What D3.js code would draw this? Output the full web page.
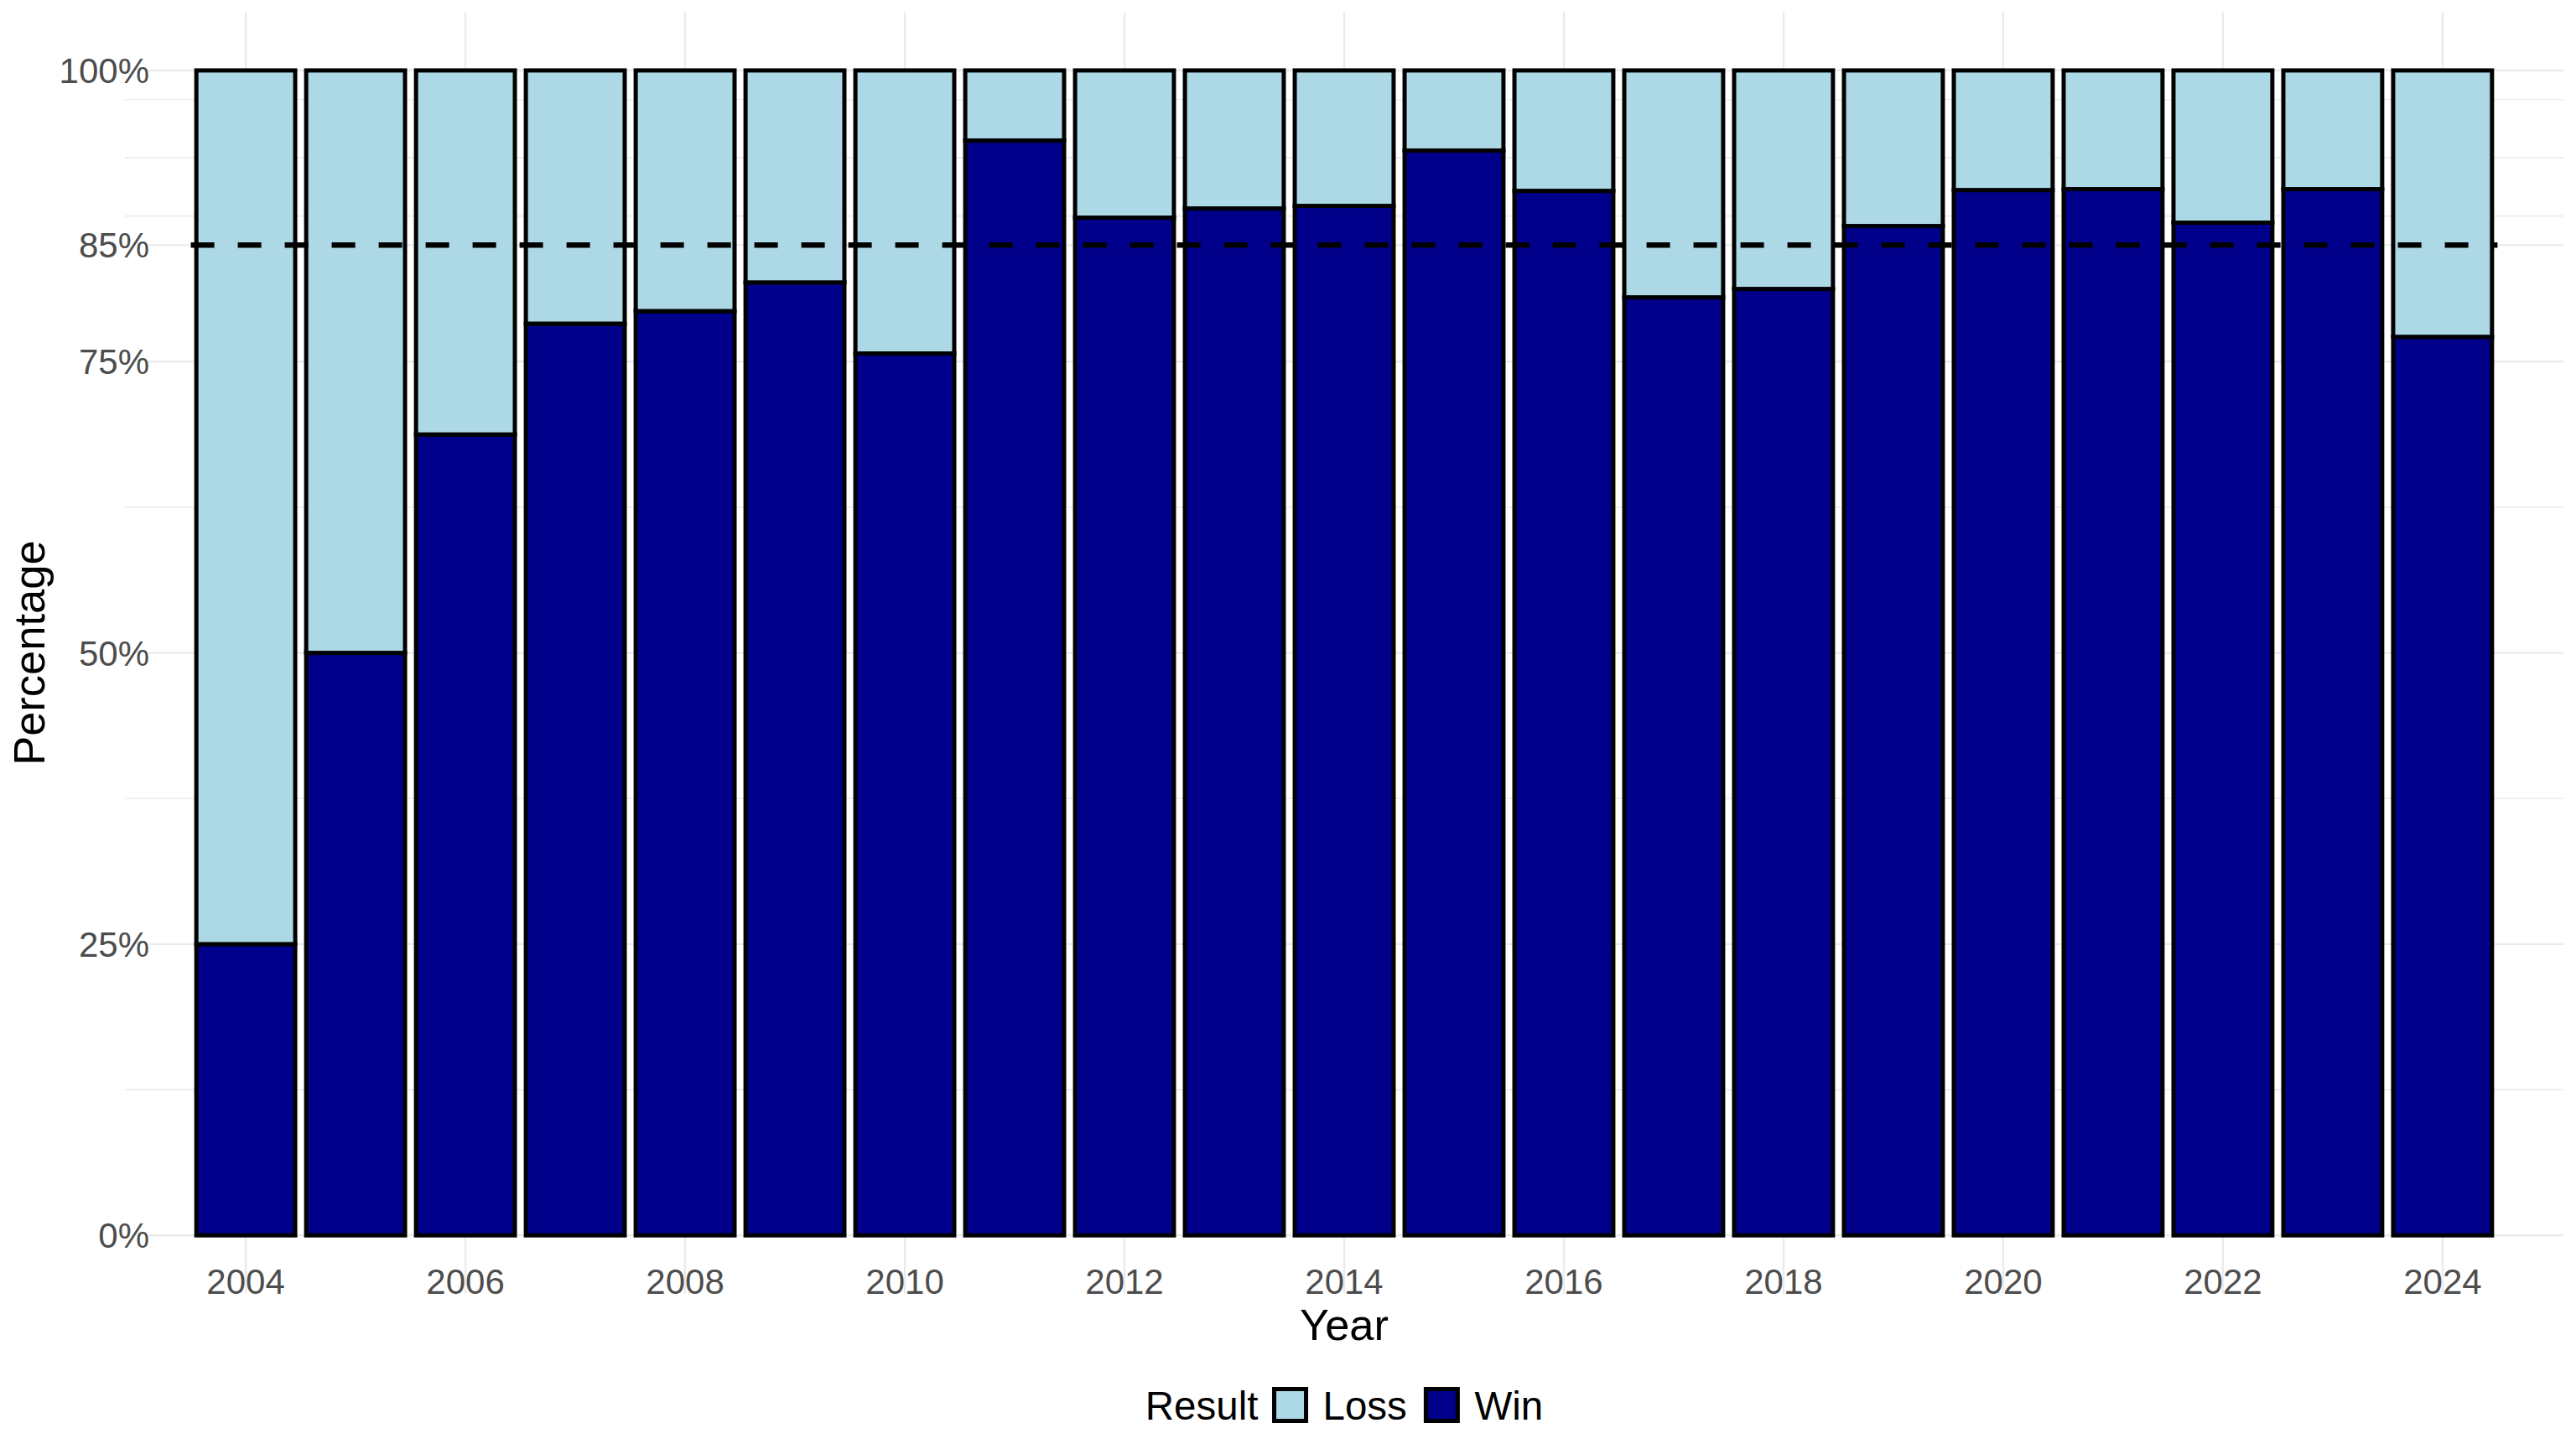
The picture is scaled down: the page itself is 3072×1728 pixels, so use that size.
<!DOCTYPE html>
<html>
<head>
<meta charset="utf-8">
<script src="https://d3js.org/d3.v7.min.js"></script>
<style>
  html, body { margin: 0; padding: 0; background: #fff; }
  svg { display: block; font-family: 'Liberation Sans', Arial, Helvetica, sans-serif; }
</style>
</head>
<body>
<svg id="chart" width="3072" height="1728"></svg>
<script>
// --- DATA ---
const years = [2004, 2005, 2006, 2007, 2008, 2009, 2010, 2011, 2012, 2013, 2014,
               2015, 2016, 2017, 2018, 2019, 2020, 2021, 2022, 2023, 2024];
// share of games won / lost per year (in %)
const winPct  = [25.0, 50.0, 68.75, 78.26, 79.34, 81.8, 75.7, 93.98, 87.36, 88.15, 88.37,
                 93.12, 89.66, 80.52, 81.24, 86.64, 89.73, 89.81, 86.93, 89.81, 77.13];
const lossPct = [75.0, 50.0, 31.25, 21.74, 20.66, 18.2, 24.3, 6.02, 12.64, 11.85, 11.63,
                 6.88, 10.34, 19.48, 18.76, 13.36, 10.27, 10.19, 13.07, 10.19, 22.87];
const xTicks = [2004, 2006, 2008, 2010, 2012, 2014, 2016, 2018, 2020, 2022, 2024];
const yTicks = [0, 0.25, 0.5, 0.75, 0.85, 1];
const yMinor = [0.125, 0.375, 0.625, 0.875, 0.925, 0.975];
const target = 0.85;
const seriesNames = ["Loss", "Win"];
const seriesColors = ["#ADD8E6", "#00008B"];

// --- LAYOUT ---
const panel = { left: 149, right: 3057, top: 14.5, bottom: 1542.7 };
const svg = d3.select("#chart");

const x = d3.scaleLinear().domain([2002.9, 2025.1]).range([panel.left, panel.right]);
const y = d3.scaleLinear().domain([-0.05, 1.05]).range([panel.bottom, panel.top]);
const color = d3.scaleOrdinal().domain(seriesNames).range(seriesColors);
const barW = x(2004.9) - x(2004);

const rows = years.map((yr, i) => ({ year: yr, Win: winPct[i] / 100, Loss: lossPct[i] / 100 }));

// --- GRID ---
const grid = svg.append("g");
grid.selectAll("line.minor").data(yMinor).enter().append("line")
    .attr("x1", panel.left).attr("x2", panel.right)
    .attr("y1", d => y(d)).attr("y2", d => y(d))
    .attr("stroke", "#EBEBEB").attr("stroke-width", 1.6);
grid.selectAll("line.major").data(yTicks).enter().append("line")
    .attr("x1", 177).attr("x2", panel.right)
    .attr("y1", d => y(d)).attr("y2", d => y(d))
    .attr("stroke", "#EBEBEB").attr("stroke-width", 2.4);
grid.selectAll("line.vmajor").data(xTicks).enter().append("line")
    .attr("x1", d => x(d)).attr("x2", d => x(d))
    .attr("y1", panel.top).attr("y2", panel.bottom)
    .attr("stroke", "#EBEBEB").attr("stroke-width", 2.4);

// --- BARS (Win at bottom, Loss stacked on top) ---
const stack = d3.stack().keys(["Win", "Loss"])(rows);
svg.append("g").selectAll("g").data(stack).enter().append("g")
    .attr("fill", d => color(d.key))
    .selectAll("rect").data(d => d).enter().append("rect")
    .attr("x", d => x(d.data.year) - barW / 2)
    .attr("width", barW)
    .attr("y", d => y(d[1]))
    .attr("height", d => y(d[0]) - y(d[1]))
    .attr("stroke", "#000").attr("stroke-width", 5);

// --- TARGET LINE ---
svg.append("line")
    .attr("x1", x(2003.5)).attr("x2", x(2024.5))
    .attr("y1", y(target)).attr("y2", y(target))
    .attr("stroke", "#000").attr("stroke-width", 6.5)
    .attr("stroke-dasharray", "28,28");

// --- AXES TEXT ---
svg.append("g").selectAll("text").data(yTicks).enter().append("text")
    .attr("x", 178).attr("y", d => y(d) + 15)
    .attr("text-anchor", "end").attr("font-size", 42).attr("fill", "#4D4D4D")
    .text(d => d3.format(".0%")(d));

svg.append("g").selectAll("text").data(xTicks).enter().append("text")
    .attr("x", d => x(d)).attr("y", 1543)
    .attr("text-anchor", "middle").attr("font-size", 42).attr("fill", "#4D4D4D")
    .text(d => d);

svg.append("text")
    .attr("x", (panel.left + panel.right) / 2).attr("y", 1598)
    .attr("text-anchor", "middle").attr("font-size", 52.5).attr("fill", "#000")
    .text("Year");

svg.append("text")
    .attr("transform", `translate(53,${(panel.top + panel.bottom) / 2}) rotate(-90)`)
    .attr("text-anchor", "middle").attr("font-size", 52.5).attr("fill", "#000")
    .text("Percentage");

// --- LEGEND ---
const legend = svg.append("g");
const keySize = 38, legBase = 1693, keyTop = 1654;
let cx = 0;
const title = legend.append("text").attr("x", cx).attr("y", legBase)
    .attr("font-size", 47.5).attr("fill", "#000").text("Result");
cx += title.node().getComputedTextLength() + 16.6;
seriesNames.forEach((name, i) => {
  legend.append("rect")
      .attr("x", cx + 2.5).attr("y", keyTop + 2.5)
      .attr("width", keySize).attr("height", keySize)
      .attr("fill", color(name)).attr("stroke", "#000").attr("stroke-width", 5);
  cx += keySize + 5 + 17.5;
  const t = legend.append("text").attr("x", cx).attr("y", legBase)
      .attr("font-size", 47.5).attr("fill", "#000").text(name);
  cx += t.node().getComputedTextLength() + (i === 0 ? 20 : 0);
});
legend.attr("transform", `translate(${(panel.left + panel.right) / 2 - cx / 2},0)`);
</script>
</body>
</html>
